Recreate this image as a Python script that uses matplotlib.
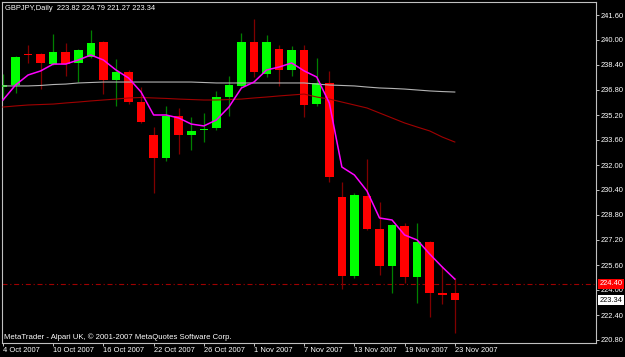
import matplotlib
matplotlib.use('Agg')
import matplotlib.pyplot as plt
import matplotlib.transforms as mtransforms

# GBPJPY daily candles, 4 Oct - 23 Nov 2007
opens = [236.99, 237.12, 239.10, 239.10, 238.46, 239.23, 238.53, 238.91, 239.87, 237.44,
         237.95, 236.03, 233.92, 232.45, 235.14, 233.92, 234.21, 234.37, 236.35, 237.06,
         239.87, 237.82, 239.42, 238.08, 239.36, 235.90, 237.25, 229.95, 224.90, 230.02,
         227.90, 225.54, 228.10, 224.83, 227.07, 223.81, 223.82]
highs = [237.82, 238.98, 239.68, 239.17, 240.38, 239.81, 239.42, 240.64, 239.94, 238.78,
         238.08, 236.99, 234.43, 235.78, 235.65, 235.07, 235.33, 236.74, 237.70, 240.45,
         241.34, 240.32, 239.68, 239.62, 239.68, 238.85, 238.02, 230.91, 230.21, 232.38,
         229.63, 228.22, 228.29, 228.29, 227.14, 225.54, 224.79]
lows = [236.16, 236.61, 238.53, 236.86, 238.43, 237.70, 237.31, 238.88, 236.54, 235.78,
        235.90, 234.69, 230.21, 232.26, 232.70, 232.96, 233.47, 234.24, 235.14, 237.02,
        237.63, 237.63, 237.06, 237.70, 235.07, 235.78, 230.91, 224.06, 224.77, 227.87,
        224.96, 223.81, 224.45, 223.19, 222.27, 223.10, 221.27]
closes = [237.12, 238.91, 239.04, 238.53, 239.23, 238.46, 239.36, 239.81, 237.44, 237.95,
          236.03, 234.75, 232.45, 235.14, 233.92, 234.18, 234.27, 236.35, 237.12, 239.87,
          237.95, 239.87, 238.08, 239.36, 235.84, 237.25, 231.23, 224.90, 230.08, 227.90,
          225.54, 228.16, 224.83, 227.07, 223.81, 223.68, 223.34]

# moving averages
ma_fast = [236.16, 237.12, 237.76, 238.02, 238.46, 238.46, 238.72, 239.04, 238.72, 238.08,
           237.57, 236.67, 235.20, 235.20, 235.01, 234.62, 234.50, 234.88, 235.71, 236.93,
           237.31, 238.08, 238.27, 238.53, 238.02, 237.63, 235.97, 231.87, 231.36, 230.34,
           228.61, 228.48, 227.52, 227.20, 226.30, 225.47, 224.70]
ma_mid = [235.71, 235.78, 235.84, 235.87, 235.90, 235.97, 236.03, 236.10, 236.16, 236.22,
          236.29, 236.32, 236.29, 236.26, 236.22, 236.19, 236.16, 236.16, 236.19, 236.22,
          236.29, 236.35, 236.42, 236.48, 236.54, 236.35, 236.22, 236.03, 235.84, 235.65,
          235.33, 235.01, 234.69, 234.43, 234.18, 233.79, 233.47]
ma_slow = [237.06, 237.06, 237.06, 237.09, 237.15, 237.18, 237.25, 237.28, 237.31, 237.31,
           237.31, 237.31, 237.31, 237.31, 237.31, 237.31, 237.28, 237.25, 237.25, 237.25,
           237.25, 237.25, 237.25, 237.25, 237.25, 237.18, 237.12, 237.09, 237.06, 236.99,
           236.93, 236.90, 236.86, 236.80, 236.74, 236.70, 236.67]

x_tick_pos = [0, 4, 8, 12, 16, 20, 24, 28, 32, 36]
x_tick_labels = ['4 Oct 2007', '10 Oct 2007', '16 Oct 2007', '22 Oct 2007', '26 Oct 2007',
                 '1 Nov 2007', '7 Nov 2007', '13 Nov 2007', '19 Nov 2007', '23 Nov 2007']
y_ticks = [220.80, 222.40, 224.00, 225.60, 227.20, 228.80, 230.40, 232.00,
           233.60, 235.20, 236.80, 238.40, 240.00, 241.60]
ask_price = 224.40
last_price = 223.34

plt.rcParams['font.family'] = ['Liberation Sans', 'DejaVu Sans']
FS = 5.4

fig = plt.figure(figsize=(6.25, 3.57), dpi=100, facecolor='black')
ax = fig.add_axes([2 / 625, 14 / 357, 594 / 625, 341 / 357], facecolor='black')

xs = list(range(len(closes)))
bull = [c >= o for o, c in zip(opens, closes)]
body_col = ['#00ff00' if b else '#ff0000' for b in bull]
wick_col = ['#008000' if b else '#800000' for b in bull]

ax.vlines(xs, lows, highs, colors=wick_col, linewidth=0.9, zorder=2)
bottoms = [min(o, c) for o, c in zip(opens, closes)]
heights = [max(abs(c - o), 0.07) for o, c in zip(opens, closes)]
ax.bar(xs, heights, bottom=bottoms, width=0.68, color=body_col, linewidth=0, zorder=3)

ax.plot(xs, ma_slow, color='#b4b4b4', linewidth=0.8, zorder=4)
ax.plot(xs, ma_mid, color='#a00000', linewidth=0.8, zorder=4)
ax.plot(xs, ma_fast, color='#ff00ff', linewidth=1.1, zorder=5)

ax.axhline(ask_price, color='#a00000', linewidth=0.8, dashes=(4.5, 2.5, 1, 2.5), zorder=1)

ax.set_xlim(-0.08, 47.25)
ax.set_ylim(220.608, 242.432)

ax.set_xticks(x_tick_pos)
ax.set_xticklabels(x_tick_labels, ha='left')
ax.yaxis.tick_right()
ax.set_yticks(y_ticks)
ax.set_yticklabels(['%.2f' % v for v in y_ticks])
ax.tick_params(axis='both', colors='#c0c0c0', labelcolor='white', labelsize=FS,
               length=2.5, width=0.7, pad=1)
ax.tick_params(axis='x', pad=0.5)
for s in ax.spines.values():
    s.set_color('#c0c0c0')
    s.set_linewidth(0.8)

trans = mtransforms.blended_transform_factory(ax.transAxes, ax.transData)
ax.text(1.006, ask_price, '%.2f' % ask_price, transform=trans, color='white', fontsize=FS,
        va='center', ha='left', clip_on=False, zorder=10,
        bbox=dict(boxstyle='square,pad=0.2', fc='#ff0000', ec='none'))
ax.text(1.006, last_price, '%.2f' % last_price, transform=trans, color='black', fontsize=FS,
        va='center', ha='left', clip_on=False, zorder=10,
        bbox=dict(boxstyle='square,pad=0.2', fc='white', ec='none'))

fig.text(5 / 625, 1 - 8 / 357, 'GBPJPY,Daily  223.82 224.79 221.27 223.34', color='white',
         fontsize=FS, va='center', ha='left')
fig.text(4 / 625, 1 - 337 / 357, 'MetaTrader - Alpari UK, \u00a9 2001-2007 MetaQuotes Software Corp.',
         color='white', fontsize=5.6, va='center', ha='left')

fig.savefig('out.png', dpi=100, facecolor='black')
